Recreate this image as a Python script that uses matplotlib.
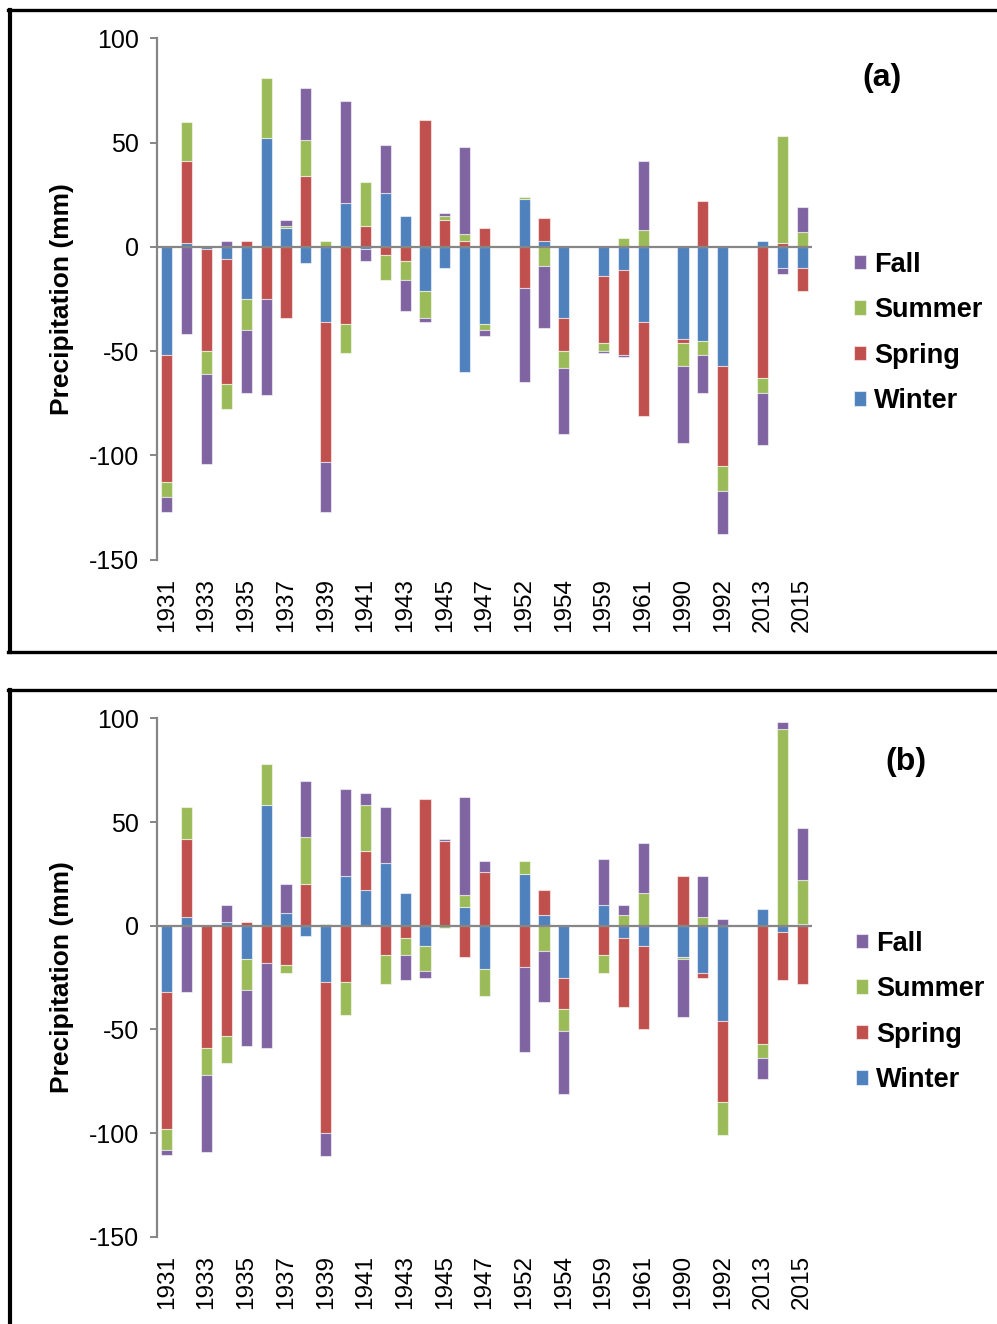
import matplotlib
matplotlib.use("Agg")
import matplotlib.pyplot as plt
import numpy as np
from matplotlib.lines import Line2D

plt.rcParams['font.family'] = ['Liberation Sans', 'DejaVu Sans']
plt.rcParams['axes.unicode_minus'] = False

years = ["1931", "1932", "1933", "1934", "1935", "1936", "1937", "1938", "1939", "1940",
         "1941", "1942", "1943", "1944", "1945", "1946", "1947", "", "1952", "1953",
         "1954", "", "1959", "1960", "1961", "", "1990", "1991", "1992", "", "2013",
         "2014", "2015"]

series_names = ["Winter", "Spring", "Summer", "Fall"]
colors = ["#4F81BD", "#C0504D", "#9BBB59", "#8064A2"]

# Panel (a)
winter_a = [-52, 2, -1, -6, -25, 52, 9, -8, -36, 21, -1, 26, 15, -21, -10, -60, -37, 0, 23, 3,
            -34, 0, -14, -11, -36, 0, -44, -45, -57, 0, 3, -10, -10]
spring_a = [-61, 39, -49, -60, 3, -25, -34, 34, -67, -37, 10, -4, -7, 61, 13, 3, 9, 0, -20, 11,
            -16, 0, -32, -41, -45, 0, -2, 22, -48, 0, -63, 2, -11]
summer_a = [-7, 19, -11, -12, -15, 29, 1, 17, 3, -14, 21, -12, -9, -13, 2, 3, -3, 0, 1, -9,
            -8, 0, -4, 4, 8, 0, -11, -7, -12, 0, -7, 51, 7]
fall_a = [-7, -42, -43, 3, -30, -46, 3, 25, -24, 49, -6, 23, -15, -2, 1, 42, -3, 0, -45, -30,
          -32, 0, -1, -1, 33, 0, -37, -18, -21, 0, -25, -3, 12]

# Panel (b)
winter_b = [-32, 4, 0, 2, -16, 58, 6, -5, -27, 24, 17, 30, 16, -10, 0, 9, -21, 0, 25, 5,
            -25, 0, 10, -6, -10, 0, -15, -23, -46, 0, 8, -3, 1]
spring_b = [-66, 38, -59, -53, 2, -18, -19, 20, -73, -27, 19, -14, -6, 61, 41, -15, 26, 0, -20, 12,
            -15, 0, -14, -33, -40, 0, 24, -2, -39, 0, -57, -23, -28]
summer_b = [-10, 15, -13, -13, -15, 20, -4, 23, 1, -16, 22, -14, -8, -12, -1, 6, -13, 0, 6, -12,
            -11, 0, -9, 5, 16, 0, -1, 4, -16, 0, -7, 95, 21]
fall_b = [-2.5, -32, -37, 8, -27, -41, 14, 27, -11, 42, 6, 27, -12, -3, 1, 47, 5, 0, -41, -25,
          -30, 0, 22, 5, 24, 0, -28, 20, 3, 0, -10, 3, 25]

W, H = 997, 1324
fig = plt.figure(figsize=(W / 100, H / 100), dpi=100)

gray = "#868686"


def fx(x):
    return x / W


def fy(y):
    return 1 - y / H


def draw_panel(rect, data, label, label_xy, legend_xy):
    ax = fig.add_axes(rect)
    x = np.arange(len(years))
    pos_bottom = np.zeros(len(years))
    neg_bottom = np.zeros(len(years))
    handles = []
    for name, vals, col in zip(series_names, data, colors):
        v = np.array(vals, dtype=float)
        bottoms = np.where(v >= 0, pos_bottom, neg_bottom)
        b = ax.bar(x, v, bottom=bottoms, width=0.56, color=col,
                   edgecolor=(1, 1, 1, 0.55), linewidth=0.8, label=name, zorder=2)
        handles.append(b)
        pos_bottom = pos_bottom + np.where(v > 0, v, 0)
        neg_bottom = neg_bottom + np.where(v < 0, v, 0)
    ax.set_xlim(-0.5, 32.5)
    ax.set_ylim(-150, 100)
    ax.set_yticks([-150, -100, -50, 0, 50, 100])
    ax.axhline(0, color=gray, linewidth=1.6, zorder=3)
    for s in ["top", "right", "bottom"]:
        ax.spines[s].set_visible(False)
    ax.spines["left"].set_color(gray)
    ax.spines["left"].set_linewidth(1.6)
    ax.tick_params(axis="y", direction="out", length=5, width=1.4, color=gray,
                   labelsize=18, pad=8)
    ax.set_xticks(x[::2])
    ax.set_xticklabels(years[::2], rotation=90, fontsize=17.5)
    ax.tick_params(axis="x", length=0, pad=13)
    ax.set_ylabel("Precipitation (mm)", fontsize=19, fontweight="bold")
    ax.yaxis.set_label_coords(-(157 - 74) / 655, 0.5)
    fig.text(fx(label_xy[0]), fy(label_xy[1]), label, fontsize=23, fontweight="bold",
             ha="center", va="center")
    ax.legend(handles[::-1], series_names[::-1], loc="center left",
              bbox_to_anchor=(fx(legend_xy[0]), fy(legend_xy[1])),
              bbox_transform=fig.transFigure, frameon=False,
              prop={"weight": "bold", "size": 19.5}, handlelength=0.45,
              handleheight=0.45, handletextpad=0.3, labelspacing=0.72,
              borderpad=0, borderaxespad=0)
    return ax


ax_a = draw_panel([fx(157), fy(559.5), fx(812 - 157), (559.5 - 38.3) / H],
                  [winter_a, spring_a, summer_a, fall_a], "(a)", (882, 78), (854, 333))
ax_b = draw_panel([fx(157), fy(1236.8), fx(812 - 157), (1236.8 - 718.3) / H],
                  [winter_b, spring_b, summer_b, fall_b], "(b)", (906, 762), (856, 1012))

lw = 2.4
# frame (a)
fig.add_artist(Line2D([fx(9.5), fx(9.5)], [fy(10), fy(651.5)], color="black", linewidth=3.0))
fig.add_artist(Line2D([fx(8), 1.0], [fy(10), fy(10)], color="black", linewidth=lw))
fig.add_artist(Line2D([fx(8), 1.0], [fy(651.5), fy(651.5)], color="black", linewidth=lw))
# frame (b)
fig.add_artist(Line2D([fx(9.5), fx(9.5)], [fy(690.5), 0.0], color="black", linewidth=3.0))
fig.add_artist(Line2D([fx(8), 1.0], [fy(690.5), fy(690.5)], color="black", linewidth=lw))

fig.savefig("out.png", dpi=100)
